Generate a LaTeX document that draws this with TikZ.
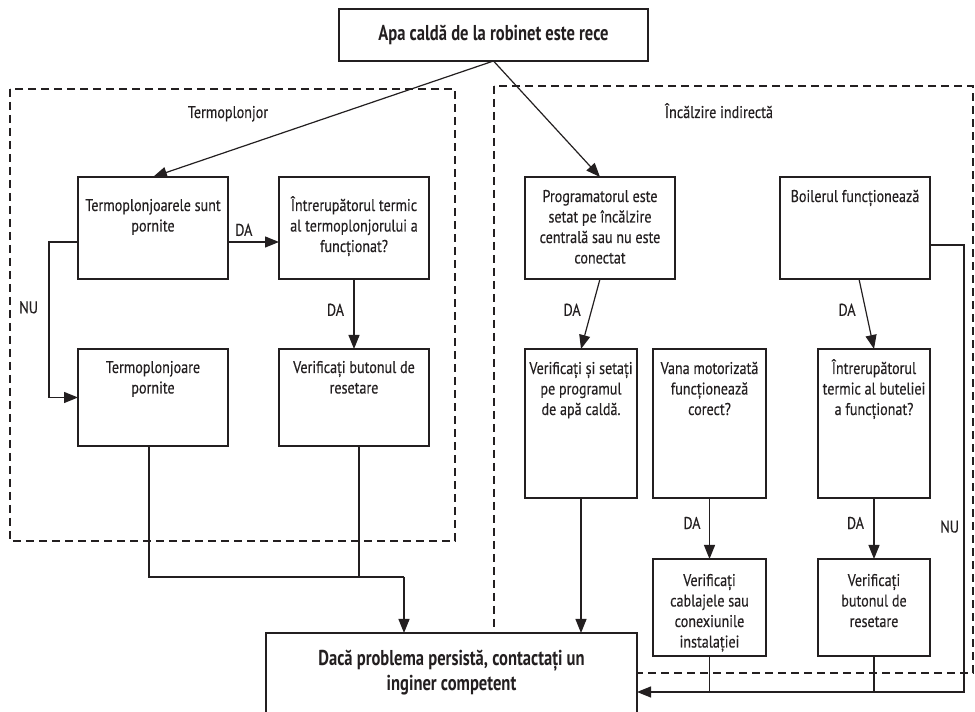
\documentclass[tikz,border=0pt]{standalone}
\usepackage{fontspec}
\setmainfont[FakeStretch=0.83,FakeBold=0.25]{PT Sans}
\newfontfamily\headfamily[FakeStretch=0.77]{PT Sans}
\usetikzlibrary{arrows.meta,positioning}
\newcommand{\boxfont}{\fontsize{17}{20.5}\selectfont}
\newcommand{\topfont}{\headfamily\bfseries\fontsize{21.5}{25}\selectfont}
\newcommand{\finalfont}{\headfamily\bfseries\fontsize{21.5}{25}\selectfont}
\newcommand{\boxtext}[4]{\parbox[t][#2pt][t]{#1pt}{\centering\rule{0pt}{#3pt}\par #4}}

\begin{document}
\begin{tikzpicture}[x=1pt,y=1pt,
  box/.style={draw=drawColor,line width=1.6pt,fill=fillColor,text=drawColor,inner sep=0pt,outer sep=0pt,font=\boxfont},
  grp/.style={draw=drawColor,line width=1.5pt,dash pattern=on 8pt off 5pt},
  conn/.style={draw=drawColor,line width=1.2pt},
  arr/.style={conn,-{Triangle[length=14pt,width=11pt]}},
  lbl/.style={text=drawColor,inner sep=0pt,outer sep=0pt,font=\boxfont}]
\definecolor{fillColor}{RGB}{255,255,255}
\definecolor{drawColor}{RGB}{35,31,32}
\path[use as bounding box,fill=fillColor] (0,0) rectangle (975,712);
\path[clip] (0,0) rectangle (975,712);

\path[grp] (10,623) rectangle (455,171);
\path[grp] (494,626) rectangle (973,39);
\node[lbl,anchor=base] (tpTitle) at (228,594) {Termoplonjor};
\node[lbl,anchor=base] (indTitle) at (719,594) {Încălzire indirectă};

\node[box,font=\topfont,minimum width=309pt,minimum height=52pt] (top) at (493.5,677) {Apa caldă de la robinet este rece};

\node[box,anchor=north west] (tpOn) at (78,535) {\boxtext{150}{102}{13.5}{Termoplonjoarele sunt\\pornite}};
\node[box,anchor=north west] (tpSwitch) at (279,535) {\boxtext{150}{102}{13.5}{Întrerupătorul termic\\al termoplonjorului a\\funcționat?}};
\node[box,anchor=north west] (tpStart) at (78,363) {\boxtext{150}{97}{3.5}{Termoplonjoare\\pornite}};
\node[box,anchor=north west] (tpReset) at (279,363) {\boxtext{150}{97}{3.5}{Verificați butonul de\\resetare}};

\node[box,anchor=north west] (progCheck) at (525,535) {\boxtext{150}{102}{4.5}{Programatorul este\\setat pe încălzire\\centrală sau nu este\\conectat}};
\node[box,anchor=north west] (boiler) at (780,535) {\boxtext{150}{102}{4.5}{Boilerul funcționează}};
\node[box,anchor=north west] (progSet) at (525,363) {\boxtext{112}{149}{4.5}{Verificați și setați\\pe programul\\de apă caldă.}};
\node[box,anchor=north west] (valve) at (653,363) {\boxtext{113}{149}{4.5}{Vana motorizată\\funcționează\\corect?}};
\node[box,anchor=north west] (cylSwitch) at (818,363) {\boxtext{112}{149}{4.5}{Întrerupătorul\\termic al buteliei\\a funcționat?}};
\node[box,anchor=north west] (wiring) at (653,153) {\boxtext{113}{97}{6.5}{Verificați\\cablajele sau\\conexiunile\\instalației}};
\node[box,anchor=north west] (cylReset) at (818,153) {\boxtext{112}{97}{6.5}{Verificați\\butonul de\\resetare}};

\node[box,font=\finalfont,anchor=north west] (final) at (266,79) {\boxtext{371}{110}{8}{Dacă problema persistă, contactați un\\inginer competent}};

\coordinate (joinL) at (404,135);
\coordinate (joinR) at (964,20);

\draw[arr] (top.south) -- (tpOn.north);
\draw[arr] (top.south) -- (progCheck.north);

\draw[arr] ([yshift=-14pt]tpOn.east) -- node[lbl,above=6pt,pos=0.31] (daOn) {DA} ([yshift=-14pt]tpSwitch.west);
\draw[arr] ([yshift=-14pt]tpOn.west) -- ++(-29,0) |- node[lbl,left=11pt,pos=0.21] (nuOn) {NU} (tpStart.west);
\draw[arr] (tpSwitch.south) -- node[lbl,left=10pt,pos=0.44] (daSwitch) {DA} (tpReset.north);
\draw[conn] ([xshift=-4pt]tpStart.south) |- (joinL);
\draw[conn] ([xshift=5pt]tpReset.south) |- (joinL);
\draw[arr] (joinL) -- (joinL |- final.north);

\draw[arr] (progCheck.south) -- node[lbl,left=11pt,pos=0.44] (daProg) {DA} (progSet.north);
\draw[arr] ([xshift=4pt]boiler.south) -- node[lbl,left=10pt,pos=0.44] (daBoiler) {DA} (cylSwitch.north);
\draw[arr] (valve.south) -- node[lbl,left=9pt,pos=0.41] (daValve) {DA} (wiring.north);
\draw[arr] (cylSwitch.south) -- node[lbl,left=10pt,pos=0.41] (daCyl) {DA} (cylReset.north);
\draw[arr] (progSet.south) -- (progSet.south |- final.north);

\draw[conn] (wiring.south) |- (joinR);
\draw[conn] (cylReset.south) |- (joinR);
\draw[arr] ([yshift=-17pt]boiler.east) -| node[lbl,left=5pt,pos=0.815] (nuBoiler) {NU} (joinR) -- (joinR -| final.east);
\end{tikzpicture}
\end{document}
